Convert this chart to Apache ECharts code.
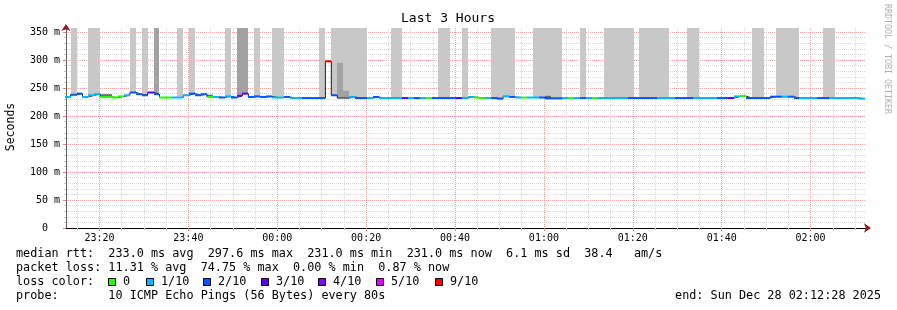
<!DOCTYPE html>
<html><head><meta charset="utf-8">
<script src="https://cdn.jsdelivr.net/npm/echarts@6/dist/echarts.min.js"></script>
<style>html,body{margin:0;padding:0;background:#fff}#c{width:897px;height:310px}</style>
</head><body><div id="c"></div>
<script>
// ---------------- data ----------------
const firstStep = '23:12:10';      // start of first 80 s step
const stepSeconds = 80;
const axisStart = '23:12:28';
const axisEnd = '02:12:28';
const majorTickLabels = ['23:20','23:40','00:00','00:20','00:40','01:00','01:20','01:40','02:00'];
const yTickValues = [0,50,100,150,200,250,300,350];
const yMax = 357.14;

// median rtt per step (ms)
const median = [
 234,238,240,234,237,239,234,234,233,235,
 237,242,239,237,242,239,233,233,233,233,
 237,240,237,239,234,234,233,235,233,236,
 240,234,235,234,235,233,233,234,232,232,
 232,232,232,232,297.6,237,232,232,234,232,
 232,232,234,232,232,232,232,232,232,232,
 232,232,232,232,232,232,232,232,234,233,
 232,232,232,231,235,234,233,233,233,233,
 233,231.5,231.5,231.5,232,232,232,232,232,232,
 232,232,232,232,232,232,232,232,232,232,
 232,232,232,232,232,232,232,232,232,232,
 232,232,232,235,235.5,232,232,232,232,234.5,
 234.5,234.5,234.5,232,232,232,232,232,232,232,
 232,232,232,232,231
];
// lost pings out of 10 per step (null = not coloured)
const lossOf10 = [
 1,2,2,1,1,1,0,0,0,0,
 1,2,2,2,3,2,0,0,1,1,
 1,2,2,2,0,1,2,1,2,3,
 3,2,2,2,2,1,1,2,1,1,
 2,2,2,2,9,2,null,null,1,2,
 2,1,2,1,1,1,1,3,1,2,
 1,0,2,2,2,2,3,1,1,0,
 0,1,2,2,1,2,1,0,1,1,
 2,2,2,2,1,0,1,2,1,0,
 1,1,1,1,1,2,2,2,2,2,
 1,1,1,2,2,2,1,1,1,1,
 2,2,3,1,0,2,2,2,2,2,
 2,1,2,2,1,1,1,2,2,1,
 1,1,1,1,1
];
// smoke: [step index, top of smoke in ms]
const smokeLight = [[1,400],[4,400],[5,400],[11,400],[13,400],[19,400],[21,400],[27,400],[32,400],[35,400],[36,400],
 [43,400],[45,400],[46,400],[47,400],[48,400],[49,400],[50,400],[55,400],[56,400],[63,400],[64,400],[67,400],
 [72,400],[73,400],[74,400],[75,400],[79,400],[80,400],[81,400],[82,400],[83,400],[87,400],
 [91,400],[92,400],[93,400],[94,400],[95,400],[97,400],[98,400],[99,400],[100,400],[101,400],
 [105,400],[106,400],[116,400],[117,400],[120,400],[121,400],[122,400],[123,400],[128,400],[129,400]];
const smokeDark = [[15,400],[29,400],[30,400],[46,295],[47,245]];
const smokeCore = [[6,239],[7,239],[24,238],[81,236]];

const lossColors = {0:'#26ff00',1:'#00b8ff',2:'#0059ff',3:'#5e00ff',4:'#7e00ff',5:'#dd00ff',9:'#ff0000'};
const legendLabels = [['0',0],['1/10',1],['2/10',2],['3/10',3],['4/10',4],['5/10',5],['9/10',9]];

// ---------------- helpers ----------------
const toMin = s => { const [h,m,sec] = s.split(':').map(Number); return ((h < 12 ? h + 24 : h) - 23) * 60 + m + (sec||0)/60; };
const fmt = v => { const t = Math.round(23*60 + v); const h = Math.floor(t/60)%24, m = t%60; return String(h).padStart(2,'0')+':'+String(m).padStart(2,'0'); };
const t0 = toMin(firstStep), dt = stepSeconds/60;
const stepStart = j => t0 + j*dt;
const xMin = toMin(axisStart), xMax = toMin(axisEnd);
const majorVals = majorTickLabels.map(toMin);
const minorVals = [];
for (let v = Math.ceil(xMin/5)*5; v <= xMax; v += 5) if (!majorVals.some(m => Math.abs(m-v) < 1e-6)) minorVals.push(v);
const yMinor = [];
for (let v = 10; v < yMax; v += 10) if (v % 50) yMinor.push(v);

const FONT = '"DejaVu Sans Mono", monospace';
const LFONT = '11.8px ' + FONT;

function clipTo(params, r) {
  return echarts.graphic.clipRectByRect(r,
    {x: params.coordSys.x, y: params.coordSys.y, width: params.coordSys.width, height: params.coordSys.height});
}
function rectRender(color) {
  return function (params, api) {
    const p0 = api.coord([api.value(0), api.value(3)]);
    const p1 = api.coord([api.value(1), api.value(2)]);
    const x0 = Math.round(p0[0]), x1 = Math.round(p1[0]);
    const shape = clipTo(params, {x: x0, y: p0[1], width: x1 - x0, height: p1[1]-p0[1]});
    return shape && {type:'rect', shape, style:{fill: color}};
  };
}
const smokeData = list => list.map(([j, top]) => [stepStart(j), stepStart(j+1), median[j], top]);

const stepLine = median.map((v,j) => [stepStart(j), v]);
stepLine.push([stepStart(median.length), median[median.length-1]]);

const segData = [];
median.forEach((v,j) => { if (lossOf10[j] !== null) segData.push([stepStart(j), stepStart(j+1), v, lossOf10[j]]); });

const chart = echarts.init(document.getElementById('c'), null, {renderer:'canvas'});

const graphics = [
  {type:'text', x:448, y:19, style:{text:'Last 3 Hours', font:'13px '+FONT, fill:'#000', textAlign:'center', textVerticalAlign:'middle'}},
  {type:'text', x:11, y:127, rotation:Math.PI/2, style:{text:'Seconds', font:'11.5px '+FONT, fill:'#000', textAlign:'center', textVerticalAlign:'middle'}},
  {type:'text', x:887, y:59, rotation:-Math.PI/2, style:{text:'RRDTOOL / TOBI OETIKER', font:'8.3px '+FONT, fill:'#b0b0b0', textAlign:'center', textVerticalAlign:'middle'}},
  {type:'text', x:16, y:254, style:{text:'median rtt:  233.0 ms avg  297.6 ms max  231.0 ms min  231.0 ms now  6.1 ms sd  38.4   am/s', font:LFONT, fill:'#000', textVerticalAlign:'middle'}},
  {type:'text', x:16, y:268, style:{text:'packet loss: 11.31 % avg  74.75 % max  0.00 % min  0.87 % now', font:LFONT, fill:'#000', textVerticalAlign:'middle'}},
  {type:'text', x:16, y:282, style:{text:'loss color:', font:LFONT, fill:'#000', textVerticalAlign:'middle'}},
  {type:'text', x:16, y:296, style:{text:'probe:       10 ICMP Echo Pings (56 Bytes) every 80s', font:LFONT, fill:'#000', textVerticalAlign:'middle'}},
  {type:'text', x:881, y:296, style:{text:'end: Sun Dec 28 02:12:28 2025', font:LFONT, fill:'#000', textAlign:'right', textVerticalAlign:'middle'}}
];
const boxX = [108,146,203,261,318,376,435];
legendLabels.forEach(([lab, l], i) => {
  graphics.push({type:'rect', shape:{x:boxX[i]+0.5, y:278.5, width:7, height:7}, style:{fill:lossColors[l], stroke:'#000', lineWidth:1}});
  graphics.push({type:'text', x:boxX[i]+15, y:282, style:{text:lab, font:LFONT, fill:'#000', textVerticalAlign:'middle'}});
});

const yLabel = v => v === 0 ? '0  ' : v + ' m';

chart.setOption({
  animation:false,
  backgroundColor:'#fff',
  grid:{left:66, right:31, top:28, bottom:82, containLabel:false},
  xAxis:[
    {type:'value', min:xMin, max:xMax, position:'bottom',
     axisLine:{show:true, onZero:false, lineStyle:{color:'#000', width:1}},
     axisTick:{show:true, customValues:majorVals, length:3, lineStyle:{color:'#e08080'}},
     axisLabel:{show:true, customValues:majorVals, formatter:fmt, fontFamily:FONT, fontSize:10, color:'#000', margin:5},
     splitLine:{show:true, lineStyle:{color:'#f2a0a0', type:[1,1]}}},
    {type:'value', min:xMin, max:xMax, position:'bottom',
     axisLine:{show:true, onZero:false, symbol:['none','arrow'], symbolSize:[7,7], symbolOffset:[0,5], lineStyle:{color:'#8b1a1a', width:0}},
     axisTick:{show:true, customValues:minorVals, length:2, lineStyle:{color:'#c8c8c8'}},
     axisLabel:{show:false},
     splitLine:{show:true, lineStyle:{color:'#d8d8d8', type:[1,1]}}}
  ],
  yAxis:[
    {type:'value', min:0, max:yMax, position:'left',
     axisLine:{show:true, onZero:false, lineStyle:{color:'#606060', width:1}},
     axisTick:{show:true, customValues:yTickValues, length:3, lineStyle:{color:'#e08080'}},
     axisLabel:{show:true, customValues:yTickValues, formatter:yLabel, fontFamily:FONT, fontSize:10, color:'#000', margin:6},
     splitLine:{show:true, lineStyle:{color:'#f2a0a0', type:[1,1]}}},
    {type:'value', min:0, max:yMax, position:'left',
     axisLine:{show:true, onZero:false, symbol:['none','arrow'], symbolSize:[7,7], symbolOffset:[0,4], lineStyle:{color:'#8b1a1a', width:0}},
     axisTick:{show:true, customValues:yMinor, length:2, lineStyle:{color:'#c8c8c8'}},
     axisLabel:{show:false},
     splitLine:{show:true, lineStyle:{color:'#d8d8d8', type:[1,1]}}}
  ],
  graphic:graphics,
  series:[
    {type:'custom', name:'smoke', renderItem:rectRender('#c8c8c8'), data:smokeData(smokeLight), encode:{x:[0,1], y:[2,3]}, silent:true, z:2},
    {type:'custom', name:'smoke dark', renderItem:rectRender('#a2a2a2'), data:smokeData(smokeDark), encode:{x:[0,1], y:[2,3]}, silent:true, z:3},
    {type:'custom', name:'smoke core', renderItem:rectRender('#6a6a6a'), data:smokeData(smokeCore), encode:{x:[0,1], y:[2,3]}, silent:true, z:4},
    {type:'line', name:'median', data:stepLine, step:'end', symbol:'none', lineStyle:{color:'#202020', width:1}, silent:true, z:5},
    {type:'custom', name:'loss', data:segData, encode:{x:[0,1], y:2}, silent:true, z:6,
     renderItem:function (params, api) {
       const p0 = api.coord([api.value(0), api.value(2)]);
       const p1 = api.coord([api.value(1), api.value(2)]);
       const x0 = Math.round(p0[0]), x1 = Math.round(p1[0]);
       const shape = clipTo(params, {x:x0, y:p0[1]-1, width:x1-x0, height:2});
       return shape && {type:'rect', shape, style:{fill: lossColors[api.value(3)]}};
     }}
  ]
});
</script></body></html>
